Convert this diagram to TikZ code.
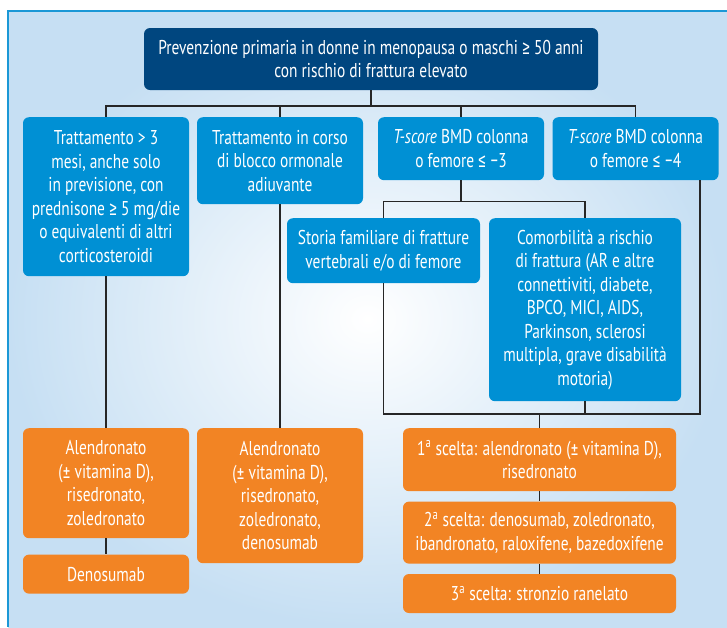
\documentclass[tikz,border=0pt]{standalone}
\usepackage{fontspec}
\setmainfont{PT Sans}[FakeStretch=0.77]
\newfontfamily\symfont{Fira Sans}[FakeStretch=0.8]
\newcommand{\gsym}{{\symfont ≥}}
\newcommand{\lsym}{{\symfont ≤}}
\newcommand{\pmsym}{{\symfont ±}}
\newcommand{\minsym}{{\symfont −}}
\usetikzlibrary{positioning, calc}
\definecolor{navybox}{RGB}{0,70,127}
\definecolor{cyanbox}{RGB}{0,144,212}
\definecolor{orangebox}{RGB}{242,132,36}
\definecolor{framecol}{RGB}{27,152,214}
\definecolor{bgblue}{RGB}{198,223,243}

\begin{document}
\begin{tikzpicture}[
  x=1pt, y=-1pt,
  base/.style={rectangle, rounded corners=6pt, text=white, align=center, inner sep=0pt,
    font=\fontsize{20}{23.5}\selectfont},
  topbox/.style={base, fill=navybox, minimum width=454pt, minimum height=62pt},
  bluebox/.style={base, fill=cyanbox, minimum width=166pt},
  orbox/.style={base, fill=orangebox, minimum width=166pt},
  link/.style={line width=1.6pt, black!85},
]
  % background and frame
  \useasboundingbox (0,0) rectangle (727,627);
  \fill[white] (0,0) rectangle (727,627);
  \shade[inner color=white, outer color=bgblue] (8,11) rectangle (727,627);
  \draw[framecol, line width=2pt] (727,11) -- (8,11) -- (8,627);

  % top
  \node[topbox] (prev) at (371,59) {Prevenzione primaria in donne in menopausa o maschi \gsym{} 50 anni\\con rischio di frattura elevato};

  % criteria
  \node[bluebox, minimum height=159pt, anchor=north] (tratt) at (106,117) {Trattamento > 3\\mesi, anche solo\\in previsione, con\\prednisone \gsym{} 5 mg/die\\o equivalenti di altri\\corticosteroidi};
  \node[bluebox, minimum height=87pt, anchor=north] (blocco) at (280,117) {Trattamento in corso\\di blocco ormonale\\adiuvante};
  \node[bluebox, minimum height=63pt, anchor=north] (tsc) at (461,117) {\textit{T-score} BMD colonna\\o femore \lsym{} \minsym3};
  \node[bluebox, minimum height=63pt, anchor=north] (tsd) at (635.5,117) {\textit{T-score} BMD colonna\\o femore \lsym{} \minsym4};
  \node[bluebox, minimum width=193pt, minimum height=65pt, anchor=north] (storia) at (383.5,218) {Storia familiare di fratture\\vertebrali e/o di femore};
  \node[bluebox, minimum width=192pt, minimum height=183pt, anchor=north] (comorb) at (585,218) {Comorbilità a rischio\\di frattura (AR e altre\\connettiviti, diabete,\\BPCO, MICI, AIDS,\\Parkinson, sclerosi\\multipla, grave disabilità\\motoria)};

  % treatments
  \node[orbox, minimum height=110pt, anchor=north] (alen) at (106,428) {Alendronato\\(\pmsym{} vitamina D),\\risedronato,\\zoledronato};
  \node[orbox, minimum height=39pt, below=16pt of alen] (denos) {Denosumab};
  \node[orbox, minimum height=135pt, anchor=north] (alenb) at (280,428) {Alendronato\\(\pmsym{} vitamina D),\\risedronato,\\zoledronato,\\denosumab};
  \node[orbox, minimum width=273pt, minimum height=63pt, anchor=north] (scelta1) at (539.5,428) {1\textsuperscript{a} scelta: alendronato (\pmsym{} vitamina D),\\risedronato};
  \node[orbox, minimum width=273pt, minimum height=62pt, below=10pt of scelta1] (scelta2) {2\textsuperscript{a} scelta: denosumab, zoledronato,\\ibandronato, raloxifene, bazedoxifene};
  \node[orbox, minimum width=273pt, minimum height=39pt, below=10pt of scelta2] (scelta3) {3\textsuperscript{a} scelta: stronzio ranelato};

  % connectors
  \draw[link] (prev.south) -- ++(0,16) coordinate (hub);
  \foreach \b in {tratt, blocco, tsc, tsd}
    \draw[link] (hub) -| (\b.north);
  \draw[link] (tsc.south) -- ++(0,21) coordinate (split);
  \draw[link] (split) -| (storia.north);
  \draw[link] (split) -| (comorb.north);
  \draw[link] (scelta1.north) -- ++(0,-14) coordinate (merge);
  \draw[link] (storia.south) |- (merge) -| ([xshift=-19pt]tsd.south east);
  \draw[link] (comorb.south) -- (comorb.south |- merge);
  \draw[link] (tratt) -- (alen);
  \draw[link] (alen) -- (denos);
  \draw[link] (blocco) -- (alenb);
  \draw[link] (scelta1) -- (scelta2);
  \draw[link] (scelta2) -- (scelta3);
\end{tikzpicture}
\end{document}
